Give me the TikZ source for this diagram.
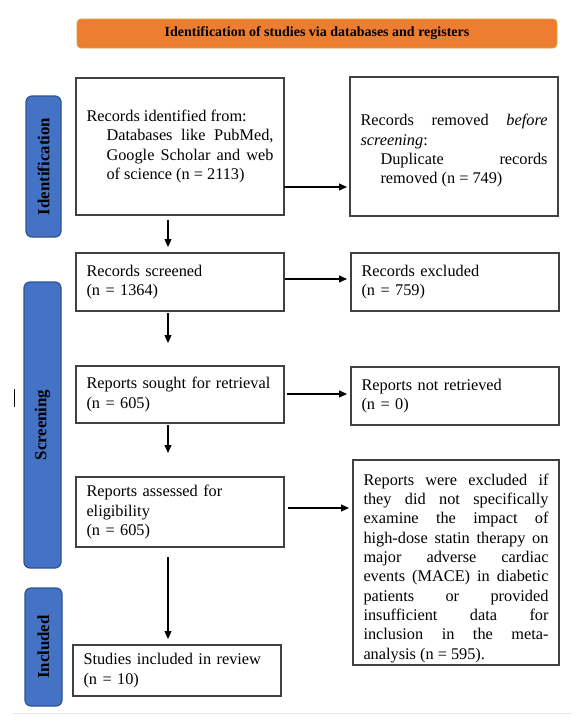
\documentclass[tikz,border=0pt]{standalone}
\usepackage{fontspec}
\setmainfont{Liberation Serif}
\usetikzlibrary{arrows.meta}
\definecolor{sideblue}{HTML}{4472C4}
\definecolor{sideline}{HTML}{2F528F}
\definecolor{bannerfill}{HTML}{ED7D31}
\definecolor{bannerline}{HTML}{D9A441}
\definecolor{boxline}{HTML}{404040}
\definecolor{footline}{HTML}{E6E6E6}
\newcommand{\myBody}{\fontsize{16.3}{19.3}\selectfont\hyphenpenalty=10000\exhyphenpenalty=50}
\tikzset{
  box/.style={draw=boxline, line width=1.2pt, fill=white, inner xsep=10.5pt, inner ysep=2pt,
    text width=187pt, font=\myBody, align=left, outer sep=0pt},
  jbox/.style={box, align=justify},
  banner/.style={draw=bannerline, fill=bannerfill, line width=0.8pt, rounded corners=4pt,
    minimum width=480pt, minimum height=29pt, inner sep=0pt,
    font=\fontsize{14}{16}\selectfont\bfseries},
  side/.style={draw=sideline, fill=sideblue, line width=1.2pt, rounded corners=6pt,
    inner sep=0pt, rotate=90, font=\fontsize{16.8}{19}\selectfont\bfseries},
  arr/.style={line width=1.1pt, -{Triangle[length=8pt,width=7pt]}}
}
\begin{document}
\begin{tikzpicture}[x=1pt,y=-1pt]
\useasboundingbox (0,0) rectangle (584,728);

% banner
\node[banner] (hdr) at (317,33.5) {Identification of studies via databases and registers};

% side labels
\node[side, minimum width=141pt, minimum height=35pt] (s1) at (43.5,166.5) {Identification};
\node[side, minimum width=286pt, minimum height=37pt] (s2) at (42.5,425) {Screening};
\node[side, minimum width=118pt, minimum height=37pt] (s3) at (43.5,647) {Included};

% boxes
\node[jbox, minimum height=137pt] (b1) at (180,146.5) {\noindent Records identified from:\par
  \noindent\hspace*{20pt}\parbox[t]{167pt}{Databases like PubMed,\linebreak Google Scholar and web\linebreak of science (n = 2113)}\par\vspace*{6pt}};
\node[jbox, minimum height=139pt] (b2) at (454,146.5) {\noindent\rule{0pt}{20pt}Records removed \textit{before}\linebreak \textit{screening}:\par
  \noindent\hspace*{20pt}\parbox[t]{167pt}{Duplicate records\linebreak removed (n = 749)}};
\node[box, minimum height=58pt] (b3) at (180,282) {Records screened\\(n = 1364)};
\node[box, minimum height=58pt] (b4) at (455,282) {Records excluded\\(n = 759)};
\node[box, minimum height=57pt] (b5) at (180,394.5) {Reports sought for retrieval\\(n = 605)};
\node[box, minimum height=58pt] (b6) at (455,396) {Reports not retrieved\\(n = 0)};
\node[box, minimum height=70pt] (b7) at (180,512) {Reports assessed for\\eligibility\\(n = 605)};
\node[jbox, text width=185pt, minimum height=205pt] (b8) at (456,562.5) {\noindent\rule{0pt}{23pt}Reports were excluded if\linebreak
  they did not specifically\linebreak examine the impact of\linebreak high-dose statin therapy on\linebreak
  major adverse cardiac\linebreak events (MACE) in diabetic\linebreak patients or provided\linebreak
  insufficient data for\linebreak inclusion in the meta-\linebreak analysis (n = 595).};
\node[box, minimum height=51pt] (b9) at (177,670.5) {Studies included in review\\(n = 10)};

% horizontal connectors
\coordinate (h1) at ([yshift=-40.5pt]b1.east);
\draw[arr, shorten >=3pt] (h1) -- (h1 -| b2.west);
\coordinate (h2) at ([yshift=3pt]b3.east);
\draw[arr, shorten <=1pt, shorten >=4pt] (h2) -- (h2 -| b4.west);
\coordinate (h3) at ([yshift=0.5pt]b5.east);
\draw[arr, shorten <=3pt, shorten >=4pt] (h3) -- (h3 -| b6.west);
\coordinate (h4) at ([yshift=4pt]b7.east);
\draw[arr, shorten <=4pt, shorten >=4pt] (h4) -- (h4 -| b8.west);

% vertical connectors
\coordinate (v1) at ([xshift=-12pt]b1.south);
\draw[arr, shorten <=5pt, shorten >=6pt] (v1) -- (v1 |- b3.north);
\coordinate (v2) at ([xshift=-12pt]b3.south);
\draw[arr, shorten <=2pt, shorten >=23pt] (v2) -- (v2 |- b5.north);
\coordinate (v3) at ([xshift=-12pt]b5.south);
\draw[arr, shorten <=2pt, shorten >=24pt] (v3) -- (v3 |- b7.north);
\coordinate (v4) at ([xshift=-12pt]b7.south);
\draw[arr, shorten <=10pt, shorten >=6pt] (v4) -- (v4 |- b9.north);

% stray mark and footer rule
\coordinate (m1) at (14,389);
\coordinate (m2) at (14,407);
\draw[line width=1pt] (m1) -- (m2);
\coordinate (g1) at (13,713);
\coordinate (g2) at (572,713);
\draw[footline, line width=1pt] (g1) -- (g2);
\end{tikzpicture}
\end{document}
